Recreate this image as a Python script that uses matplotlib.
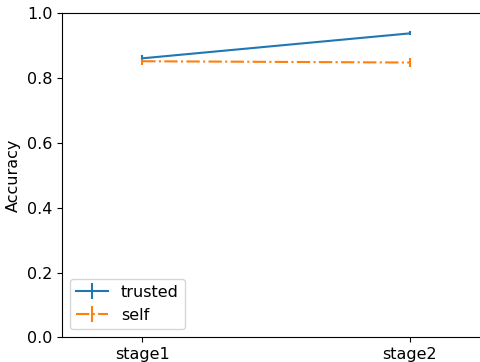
import matplotlib
matplotlib.use("Agg")
import matplotlib.pyplot as plt

stages = ["stage1", "stage2"]
trusted_acc = [0.861, 0.938]
trusted_err = [0.010, 0.006]
self_acc = [0.852, 0.848]
self_err = [0.011, 0.015]

plt.rcParams["font.size"] = 11.5

fig = plt.figure(figsize=(4.81, 3.62), dpi=100)
ax = fig.add_axes([0.1289, 0.0682, 0.8898, 0.8951])

x = list(range(len(stages)))
ax.errorbar(x, trusted_acc, yerr=trusted_err, color="#1f77b4",
            linestyle="-", label="trusted")
ax.errorbar(x, self_acc, yerr=self_err, color="#ff7f0e",
            linestyle="-.", label="self")

ax.set_xticks(x)
ax.set_xticklabels(stages)
ax.set_xlim(-0.3, 1.3)
ax.set_ylim(0.0, 1.0)
ax.set_ylabel("Accuracy")
ax.legend(loc="lower left")

fig.savefig("out.png", dpi=100)
